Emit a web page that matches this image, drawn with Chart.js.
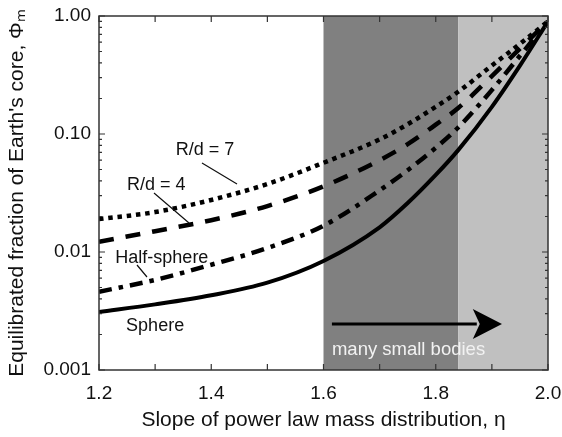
<!DOCTYPE html>
<html>
<head>
<meta charset="utf-8">
<script src="https://cdn.jsdelivr.net/npm/chart.js@4/dist/chart.umd.min.js"></script>
<style>
  html, body { margin: 0; padding: 0; background: #fff; }
  #wrap { width: 562px; height: 437px; }
</style>
</head>
<body>
<div id="wrap"><canvas id="phi_chart" width="562" height="437"></canvas></div>
<script>
// slope of the power law mass distribution (x)
const eta_values = [1.2, 1.3, 1.4, 1.5, 1.6, 1.7, 1.75, 1.8, 1.84, 1.9, 1.95, 2.0];

// equilibrated fraction of Earth's core for each geometry
const rd7_values = [0.019, 0.0218, 0.0276, 0.0377, 0.057, 0.09, 0.121, 0.17, 0.228, 0.38, 0.58, 0.9];
const rd4_values = [0.0122, 0.015, 0.0186, 0.0245, 0.036, 0.06, 0.082, 0.12, 0.166, 0.31, 0.53, 0.9];
const half_sphere_values = [0.0046, 0.0058, 0.0078, 0.0108, 0.0167, 0.0333, 0.0493, 0.0764, 0.1135, 0.236, 0.46, 0.9];
const sphere_values = [0.0031, 0.0036, 0.0043, 0.0055, 0.0084, 0.0162, 0.026, 0.045, 0.073, 0.17, 0.38, 0.9];

const x_tick_values = [1.2, 1.3, 1.4, 1.5, 1.6, 1.7, 1.8, 1.9, 2.0];
const x_tick_labels = ["1.2", "", "1.4", "", "1.6", "", "1.8", "", "2.0"];
const y_decades = [0.001, 0.01, 0.1, 1];
const y_tick_labels = ["0.001", "0.01", "0.10", "1.00"];

// shaded ranges of eta
const band_edges = [1.6, 1.84, 2.0];

const FONT = "'Liberation Sans', Arial, Helvetica, sans-serif";
const INK = "#111";

// text labels and their leader lines, in data coordinates
const notes = [
  {text: "R/d = 7", x: 1.389, y: 0.0731},
  {text: "R/d = 4", x: 1.302, y: 0.037},
  {text: "Half-sphere", x: 1.312, y: 0.0089},
  {text: "Sphere", x: 1.30, y: 0.00236}
];
const leaders = [
  [1.3835, 0.0568, 1.4459, 0.0377],
  [1.298, 0.0316, 1.3604, 0.0176],
  [1.2677, 0.00776, 1.2855, 0.00614]
];
const arrow = {from: 1.615, base: 1.866, tip: 1.918, y: 0.00245};
const arrow_note = {text: "many small bodies", x: 1.7515, y: 0.00148};

function pairs(values) {
  return eta_values.map(function(eta, i) {
    return {x: eta, y: values[i]};
  });
}

const extras_plugin = {
  id: "extras",
  beforeDatasetsDraw(chart) {
    const {ctx, chartArea, scales} = chart;
    const colors = ["#808080", "#c0c0c0"];
    ctx.save();
    for (let i = 0; i < band_edges.length - 1; i++) {
      const x0 = scales.x.getPixelForValue(band_edges[i]);
      const x1 = scales.x.getPixelForValue(band_edges[i + 1]);
      ctx.fillStyle = colors[i];
      ctx.fillRect(x0, chartArea.top, x1 - x0, chartArea.bottom - chartArea.top);
    }
    ctx.restore();
  },
  afterDatasetsDraw(chart) {
    const {ctx, chartArea, scales} = chart;
    const xs = scales.x, ys = scales.y;
    ctx.save();

    // frame + inward ticks
    ctx.strokeStyle = "#333";
    ctx.lineWidth = 1.5;
    ctx.strokeRect(chartArea.left, chartArea.top, chartArea.right - chartArea.left, chartArea.bottom - chartArea.top);
    ctx.lineWidth = 1.2;
    ctx.beginPath();
    xs.ticks.forEach(function(t) {
      const px = xs.getPixelForValue(t.value);
      ctx.moveTo(px, chartArea.bottom);
      ctx.lineTo(px, chartArea.bottom - 6);
      ctx.moveTo(px, chartArea.top);
      ctx.lineTo(px, chartArea.top + 6);
    });
    ys.ticks.forEach(function(t) {
      const py = ys.getPixelForValue(t.value);
      const len = y_decades.some(d => Math.abs(d - t.value) < d * 1e-6) ? 6 : 3;
      ctx.moveTo(chartArea.left, py);
      ctx.lineTo(chartArea.left + len, py);
      ctx.moveTo(chartArea.right, py);
      ctx.lineTo(chartArea.right - len, py);
    });
    ctx.stroke();

    // labels
    ctx.fillStyle = INK;
    ctx.font = "18px " + FONT;
    ctx.textAlign = "center";
    ctx.textBaseline = "middle";
    notes.forEach(function(n) {
      ctx.fillText(n.text, xs.getPixelForValue(n.x), ys.getPixelForValue(n.y));
    });
    ctx.strokeStyle = INK;
    ctx.lineWidth = 1.2;
    ctx.beginPath();
    leaders.forEach(function(l) {
      ctx.moveTo(xs.getPixelForValue(l[0]), ys.getPixelForValue(l[1]));
      ctx.lineTo(xs.getPixelForValue(l[2]), ys.getPixelForValue(l[3]));
    });
    ctx.stroke();

    // arrow
    const ay = ys.getPixelForValue(arrow.y);
    const ax0 = xs.getPixelForValue(arrow.from);
    const axb = xs.getPixelForValue(arrow.base);
    const axt = xs.getPixelForValue(arrow.tip);
    ctx.strokeStyle = "#000";
    ctx.lineWidth = 3;
    ctx.beginPath();
    ctx.moveTo(ax0, ay);
    ctx.lineTo(axb + 4, ay);
    ctx.stroke();
    ctx.fillStyle = "#000";
    ctx.beginPath();
    ctx.moveTo(axt, ay);
    ctx.lineTo(axb, ay - 15);
    ctx.lineTo(axb + 7, ay);
    ctx.lineTo(axb, ay + 15);
    ctx.closePath();
    ctx.fill();

    ctx.fillStyle = "#f2f2f2";
    ctx.font = "18.5px " + FONT;
    ctx.fillText(arrow_note.text, xs.getPixelForValue(arrow_note.x), ys.getPixelForValue(arrow_note.y));
    ctx.restore();
  }
};

const line_base = {
  borderColor: "#000",
  pointRadius: 0,
  fill: false,
  borderCapStyle: "butt",
  cubicInterpolationMode: "monotone"
};

new Chart("phi_chart", {
  type: "line",
  data: {
    datasets: [
      Object.assign({label: "R/d = 7", data: pairs(rd7_values), borderWidth: 4.5, borderDash: [4.5, 4.8]}, line_base),
      Object.assign({label: "R/d = 4", data: pairs(rd4_values), borderWidth: 4.5, borderDash: [15, 12]}, line_base),
      Object.assign({label: "Half-sphere", data: pairs(half_sphere_values), borderWidth: 4.5, borderDash: [13, 7, 4.5, 7]}, line_base),
      Object.assign({label: "Sphere", data: pairs(sphere_values), borderWidth: 4}, line_base)
    ]
  },
  options: {
    responsive: false,
    animation: false,
    devicePixelRatio: 1,
    layout: {padding: {top: 16, right: 14, left: 0, bottom: 0}},
    plugins: {legend: {display: false}, tooltip: {enabled: false}},
    scales: {
      x: {
        type: "linear",
        min: 1.2,
        max: 2.0,
        afterBuildTicks: function(scale) {
          scale.ticks = x_tick_values.map(v => ({value: v}));
        },
        afterFit: function(scale) {
          scale.height = 67;
          scale.paddingLeft = 0;
          scale.paddingRight = 0;
        },
        grid: {display: false, drawTicks: false},
        border: {display: false},
        ticks: {
          autoSkip: false,
          maxRotation: 0,
          padding: 12,
          color: INK,
          font: {family: FONT, size: 19},
          callback: function(value) {
            const i = x_tick_values.findIndex(v => Math.abs(v - value) < 1e-6);
            return i >= 0 ? x_tick_labels[i] : "";
          }
        },
        title: {
          display: true,
          text: "Slope of power law mass distribution, η",
          color: INK,
          font: {family: FONT, size: 21},
          padding: {top: 0, bottom: 4}
        }
      },
      y: {
        type: "logarithmic",
        min: 0.001,
        max: 1,
        afterBuildTicks: function(scale) {
          const ticks = [];
          y_decades.forEach(function(d, i) {
            ticks.push({value: d});
            if (i < y_decades.length - 1) {
              for (let k = 2; k <= 9; k++) ticks.push({value: d * k});
            }
          });
          scale.ticks = ticks;
        },
        afterFit: function(scale) {
          scale.width = 99;
          scale.paddingTop = 0;
          scale.paddingBottom = 0;
        },
        grid: {display: false, drawTicks: false},
        border: {display: false},
        ticks: {
          autoSkip: false,
          padding: 8,
          color: INK,
          font: {family: FONT, size: 19},
          callback: function(value) {
            const i = y_decades.findIndex(d => Math.abs(d - value) < d * 1e-6);
            return i >= 0 ? y_tick_labels[i] : "";
          }
        },
        title: {
          display: true,
          text: "Equilibrated fraction of Earth's core, Φₘ",
          color: INK,
          font: {family: FONT, size: 21},
          padding: {top: 5, bottom: 0}
        }
      }
    }
  },
  plugins: [extras_plugin]
});
</script>
</body>
</html>
